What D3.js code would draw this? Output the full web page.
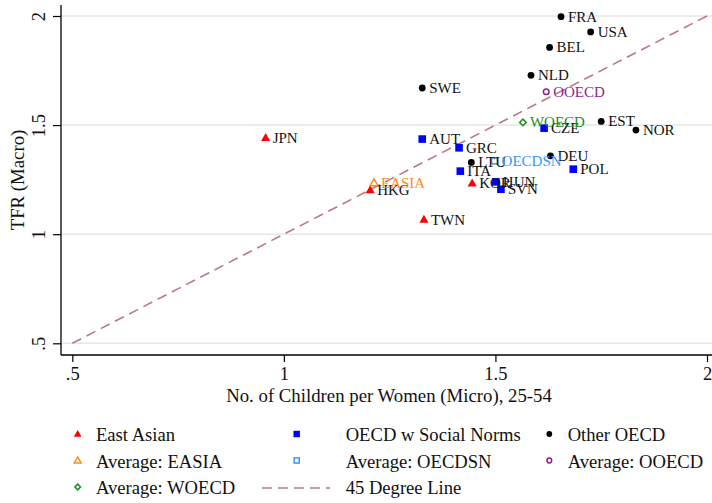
<!DOCTYPE html>
<html>
<head>
<meta charset="utf-8">
<script src="https://cdn.jsdelivr.net/npm/d3@7"></script>
<style>
  body { margin: 0; background: #fff; }
  svg { display: block; font-family: "Liberation Serif", "Times New Roman", serif; }
</style>
</head>
<body>
<svg id="chart" width="712" height="503"></svg>
<script>
// [code, micro (x), macro (y)]
const eastAsian = [
  ["JPN", 0.957, 1.442],
  ["KOR", 1.445, 1.233],
  ["HKG", 1.204, 1.202],
  ["TWN", 1.331, 1.067]
];
const oecdNorms = [
  ["AUT", 1.327, 1.436],
  ["GRC", 1.414, 1.396],
  ["ITA", 1.417, 1.289],
  ["CZE", 1.615, 1.486],
  ["POL", 1.684, 1.298],
  ["HUN", 1.501, 1.240],
  ["SVN", 1.513, 1.206]
];
const otherOecd = [
  ["FRA", 1.655, 1.997],
  ["USA", 1.725, 1.927],
  ["BEL", 1.628, 1.856],
  ["NLD", 1.584, 1.728],
  ["SWE", 1.327, 1.670],
  ["EST", 1.750, 1.517],
  ["NOR", 1.832, 1.477],
  ["DEU", 1.630, 1.359],
  ["LTU", 1.443, 1.329]
];
const averages = [
  ["EASIA", 1.213, 1.235],
  ["OECDSN", 1.498, 1.336],
  ["OOECD", 1.620, 1.653],
  ["WOECD", 1.565, 1.512]
];
const xTicks = [0.5, 1, 1.5, 2];
const yTicks = [0.5, 1, 1.5, 2];
const tickLabel = v => v === 0.5 ? ".5" : String(v);

const legendItems = [
  { label: "East Asian", key: "ea" },
  { label: "OECD w Social Norms", key: "sn" },
  { label: "Other OECD", key: "oo" },
  { label: "Average: EASIA", key: "EASIA" },
  { label: "Average: OECDSN", key: "OECDSN" },
  { label: "Average: OOECD", key: "OOECD" },
  { label: "Average: WOECD", key: "WOECD" },
  { label: "45 Degree Line", key: "line" }
];

const avgColor = { EASIA: "#ff8c1a", OECDSN: "#3399ff", OOECD: "#8e1f8e", WOECD: "#1f8c1f" };

const svg = d3.select("#chart");
const frame = { left: 61, right: 712, top: 5, bottom: 355 };

const x = d3.scaleLinear().domain([0.5, 2]).range([72.3, 707]);
const y = d3.scaleLinear().domain([0.5, 2]).range([343.3, 16]);

// gridlines
svg.append("g").selectAll("line").data(yTicks).enter().append("line")
  .attr("x1", frame.left).attr("x2", frame.right)
  .attr("y1", d => y(d)).attr("y2", d => y(d))
  .attr("stroke", "#e6e6e6").attr("stroke-width", 1.5);

// axes
const xAxis = d3.axisBottom(x).tickValues(xTicks).tickSize(7).tickFormat(tickLabel);
const gx = svg.append("g").attr("transform", `translate(0,${frame.bottom})`).call(xAxis);
gx.select(".domain").attr("d", `M${frame.left},0H${frame.right}`).attr("stroke", "#000").attr("stroke-width", 1.3);
gx.selectAll(".tick line").attr("stroke", "#000").attr("stroke-width", 1.2);
gx.selectAll(".tick text").attr("y", 25).attr("dy", null)
  .attr("font-size", "18.5px").attr("font-family", "Liberation Serif").attr("fill", "#111");

const yAxis = d3.axisLeft(y).tickValues(yTicks).tickSize(8).tickFormat(tickLabel);
const gy = svg.append("g").attr("transform", `translate(${frame.left},0)`).call(yAxis);
gy.select(".domain").attr("d", `M0,${frame.top}V${frame.bottom}`).attr("stroke", "#000").attr("stroke-width", 1.3);
gy.selectAll(".tick line").attr("stroke", "#000").attr("stroke-width", 1.2);
gy.selectAll(".tick text")
  .attr("x", null).attr("dy", null)
  .attr("transform", "translate(-16,0) rotate(-90)")
  .attr("text-anchor", "middle")
  .attr("font-size", "18.5px").attr("font-family", "Liberation Serif").attr("fill", "#111");

// axis titles
svg.append("text")
  .attr("x", 389).attr("y", 402)
  .attr("text-anchor", "middle").attr("font-size", "18.8px").attr("fill", "#111")
  .text("No. of Children per Women (Micro), 25-54");
svg.append("text")
  .attr("transform", `translate(24,${(frame.top + frame.bottom) / 2}) rotate(-90)`)
  .attr("text-anchor", "middle").attr("font-size", "18.8px").attr("fill", "#111")
  .text("TFR (Macro)");

// 45 degree line
const lineStyle = sel => sel.attr("stroke", "#b97a80").attr("stroke-width", 1.6)
  .attr("stroke-dasharray", "10,6").attr("fill", "none");
svg.append("line")
  .attr("x1", x(0.5)).attr("y1", y(0.5)).attr("x2", x(2)).attr("y2", y(2))
  .call(lineStyle);

// marker helpers
const tri = d3.symbol().type(d3.symbolTriangle);

function drawMarker(g, key, cx, cy, scale) {
  const s = scale || 1;
  if (key === "ea") {
    g.append("path").attr("d", tri.size(36 * s * s)()).attr("transform", `translate(${cx},${cy + 0.5})`).attr("fill", "#ff0000");
  } else if (key === "sn") {
    g.append("rect").attr("x", cx - 3.8 * s).attr("y", cy - 3.8 * s).attr("width", 7.6 * s).attr("height", 7.6 * s).attr("fill", "#0000ff");
  } else if (key === "oo") {
    g.append("circle").attr("cx", cx).attr("cy", cy).attr("r", 3.4 * s).attr("fill", "#000");
  } else if (key === "EASIA") {
    g.append("path").attr("d", tri.size(28 * s * s)()).attr("transform", `translate(${cx},${cy + 0.5})`)
      .attr("fill", "none").attr("stroke", avgColor.EASIA).attr("stroke-width", 1.5);
  } else if (key === "OECDSN") {
    g.append("rect").attr("x", cx - 3 * s).attr("y", cy - 3 * s).attr("width", 6 * s).attr("height", 6 * s)
      .attr("fill", "none").attr("stroke", avgColor.OECDSN).attr("stroke-width", 1.5);
  } else if (key === "OOECD") {
    g.append("circle").attr("cx", cx).attr("cy", cy).attr("r", 2.8 * s)
      .attr("fill", "none").attr("stroke", avgColor.OOECD).attr("stroke-width", 1.5);
  } else if (key === "WOECD") {
    g.append("path").attr("d", d3.symbol().type(d3.symbolSquare).size(22 * s * s)())
      .attr("transform", `translate(${cx},${cy}) rotate(45)`)
      .attr("fill", "none").attr("stroke", avgColor.WOECD).attr("stroke-width", 1.5);
  }
}

const points = svg.append("g");
const labels = svg.append("g").attr("font-size", "15px");

function drawGroup(data, key, colorFn) {
  data.forEach(d => {
    const cx = x(d[1]), cy = y(d[2]);
    drawMarker(points, key === "avg" ? d[0] : key, cx, cy, 1);
    labels.append("text")
      .attr("x", cx + 7).attr("y", cy + 5)
      .attr("fill", colorFn(d))
      .text(d[0]);
  });
}

drawGroup(eastAsian, "ea", () => "#111");
drawGroup(oecdNorms, "sn", () => "#111");
drawGroup(otherOecd, "oo", () => "#111");
drawGroup(averages, "avg", d => avgColor[d[0]]);

// legend
const legend = svg.append("g").attr("font-size", "18.6px").attr("fill", "#111");
const colMarker = [77.7, 296.7, 549.3];
const colText = [96, 345.7, 567.7];
const rowY = [435, 461.5, 488];
legendItems.forEach((it, i) => {
  const col = i % 3, row = Math.floor(i / 3);
  const cy = rowY[row];
  if (it.key === "line") {
    legend.append("line").attr("x1", 262).attr("x2", 330).attr("y1", cy).attr("y2", cy).call(lineStyle);
  } else {
    drawMarker(legend, it.key, colMarker[col], cy - 1, 0.85);
  }
  legend.append("text").attr("x", colText[col]).attr("y", cy + 6).text(it.label);
});
</script>
</body>
</html>
